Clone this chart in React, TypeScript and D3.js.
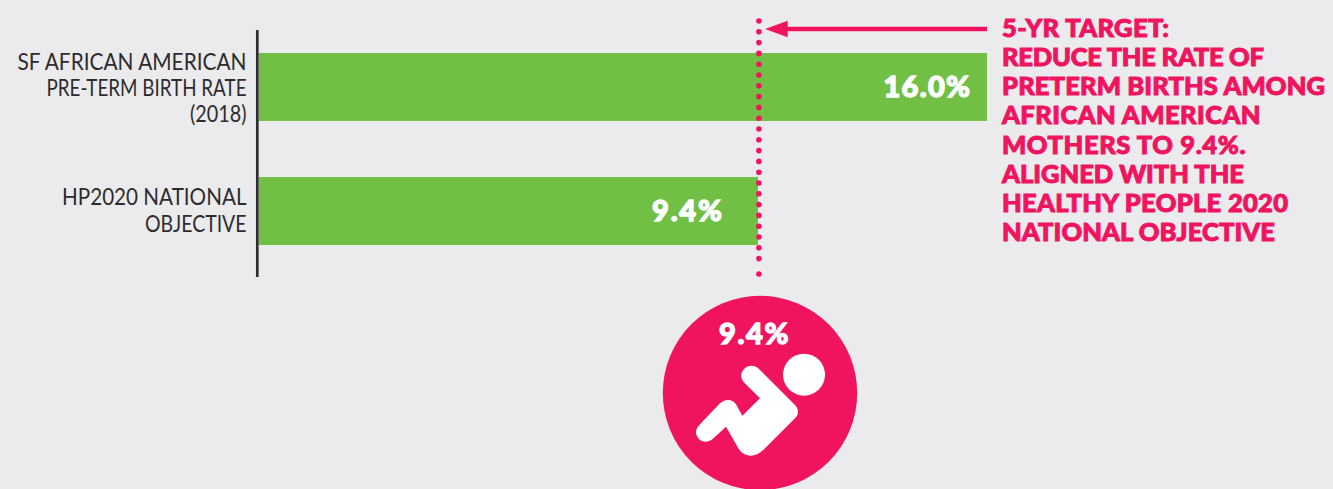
import React from "react";
import * as d3 from "d3";

const categories = [["SF AFRICAN AMERICAN", "PRE-TERM BIRTH RATE", "(2018)"], ["HP2020 NATIONAL", "OBJECTIVE"]];
const values = [16.0, 9.4];
const targetValue = 9.4;
const calloutLines = ["5-YR TARGET:", "REDUCE THE RATE OF", "PRETERM BIRTHS AMONG", "AFRICAN AMERICAN", "MOTHERS TO 9.4%.", "ALIGNED WITH THE", "HEALTHY PEOPLE 2020", "NATIONAL OBJECTIVE"];

// Rendered widths of each text line in the source's (unavailable) typeface.
const categoryWidths = [[229, 200, 56.5], [184.5, 101.5]];
const categoryBaselines = [[70, 96, 122], [205, 232]];
const calloutWidths = [167, 262, 323, 258.5, 243.5, 242, 286, 273];
const valueWidths = [86.5, 70];
const valueRightGap = [17, 36];

const PINK = "#f0145f";
const GREEN = "#71bf44";
const INK = "#2e2c2e";
const FONT = "Lato, sans-serif";

export default function App() {
  // The source bars are not drawn to a common scale, so the scale keeps its two anchors.
  const x = d3.scaleLinear().domain([0, 9.4, 16]).range([258.7, 758, 987]);
  const y = d3.scaleBand<number>().domain([0, 1]).range([53, 245]).paddingInner(0.452);
  const dots = [...d3.range(0, 23).map((i) => 21 + i * 10.8), 274];
  const cx = 760, cy = 393, r = 97.2;
  return (
    <svg width={1333} height={489} style={{ position: "fixed", left: 0, top: 0, background: "#ebebed" }}>
      {values.map((v, i) => (
        <g key={i}>
          <rect x={x(0)} y={y(i)} width={x(v) - x(0)} height={y.bandwidth()} fill={GREEN} />
          <text x={x(v) - valueRightGap[i]} y={y(i)! + 44} textAnchor="end" fill="#fff" stroke="#fff" strokeWidth={1.3}
            textLength={valueWidths[i]} lengthAdjust="spacing"
            style={{ font: `900 29px ${FONT}` }}>{v.toFixed(1)}%</text>
          {categories[i].map((l, j) => (
            <text key={j} x={246.5} y={categoryBaselines[i][j]} textAnchor="end" fill={INK}
              textLength={categoryWidths[i][j]} lengthAdjust="spacingAndGlyphs"
              style={{ font: `400 22.5px ${FONT}` }}>{l}</text>
          ))}
        </g>
      ))}
      <line x1={257.3} x2={257.3} y1={30} y2={277} stroke={INK} strokeWidth={2.7} />
      {dots.map((d) => <circle key={d} cx={x(targetValue) + 0.9} cy={d} r={2.8} fill={PINK} />)}
      <line x1={785} x2={987} y1={29} y2={29} stroke={PINK} strokeWidth={4.4} />
      <path d="M765,29L787.7,20.7L787.7,37.3Z" fill={PINK} />
      {calloutLines.map((l, i) => (
        <text key={l} x={1002} y={37 + i * 29.14} fill={PINK} stroke={PINK} strokeWidth={1}
          textLength={calloutWidths[i]} lengthAdjust="spacing"
          style={{ font: `900 25.5px ${FONT}` }}>{l}</text>
      ))}
      <circle cx={cx} cy={cy} r={r} fill={PINK} />
      <text x={719} y={343.5} fill="#fff" stroke="#fff" strokeWidth={1.3} textLength={69.5} lengthAdjust="spacing"
        style={{ font: `900 29px ${FONT}` }}>{targetValue.toFixed(1)}%</text>
      <circle cx={804} cy={374.7} r={21} fill="#fff" />
      <path transform="translate(640,300) scale(0.3333)" fill="#fff"
        d="M310,210 C322,194 343,194 357,207 L465,315 C477,327 477,343 465,355 L372,448 C346,477 308,470 295,445 L258,380 L222,413 C208,428 188,429 176,416 C164,403 166,386 180,373 L240,310 C256,295 278,297 288,313 L307,347 L360,295 L313,248 C302,236 300,222 310,210 Z" />
    </svg>
  );
}
